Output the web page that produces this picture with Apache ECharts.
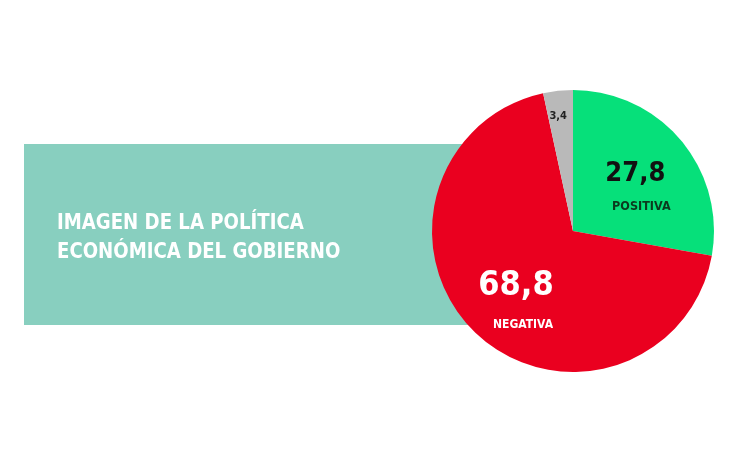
<!DOCTYPE html>
<html><head><meta charset="utf-8">
<script src="https://cdn.jsdelivr.net/npm/echarts@6/dist/echarts.min.js"></script>
<style>html,body{margin:0;padding:0;background:#fff}#c{width:734px;height:453px}</style>
</head><body><div id="c"></div>
<script>
const categories = ['POSITIVA', 'NEGATIVA', 'NS/NC'];
const values = [27.8, 68.8, 3.4];
const titleLines = ['IMAGEN DE LA POLÍTICA', 'ECONÓMICA DEL GOBIERNO'];

const FONT = "'Liberation Sans Narrow', 'DejaVu Sans Condensed', 'Roboto', sans-serif";
const colors = ['#06e07a', '#ea001f', '#b9b9b9'];
const fmt = v => v.toFixed(1).replace('.', ',');

const chart = echarts.init(document.getElementById('c'), null, {renderer: 'canvas'});
const labelCfg = [
  {offset: [6, 8], rich: {
    v: {color: '#111', fontSize: 27, lineHeight: 30},
    n: {color: '#0b3a1e', fontSize: 12.5, lineHeight: 36, padding: [0, 0, 0, 12]}}},
  {offset: [-6, 22], rich: {
    v: {color: '#fff', fontSize: 34, lineHeight: 37},
    n: {color: '#fff', fontSize: 12, lineHeight: 40, padding: [0, 0, 0, 14]}}},
  {offset: [-7, -42], rich: {v: {color: '#222', fontSize: 11, lineHeight: 13}}}
];
chart.setOption({
  backgroundColor: '#fff',
  graphic: [
    {type: 'rect', z: 0, shape: {x: 24, y: 144, width: 480, height: 181}, style: {fill: '#88cfbf'}},
    {type: 'text', z: 1, x: 57, y: 209, scaleX: 0.96,
     style: {text: titleLines.join('\n'), fill: '#fff', font: 'bold 21px ' + FONT, lineHeight: 29, textVerticalAlign: 'top', verticalAlign: 'top'}}
  ],
  series: [{
    type: 'pie',
    center: [573, 231],
    radius: [0, 141],
    startAngle: 90,
    clockwise: true,
    z: 5,
    silent: true,
    animation: false,
    itemStyle: {borderWidth: 0},
    label: {show: true, position: 'inside', fontFamily: FONT, fontWeight: 'bold'},
    labelLine: {show: false},
    data: categories.map((c, i) => ({
      name: c, value: values[i],
      itemStyle: {color: colors[i]},
      label: {
        offset: labelCfg[i].offset,
        formatter: i === 2 ? '{v|' + fmt(values[i]) + '}' : '{v|' + fmt(values[i]) + '}\n{n|' + c + '}',
        rich: Object.fromEntries(Object.entries(labelCfg[i].rich).map(([k, s]) =>
          [k, Object.assign({fontFamily: FONT, fontWeight: 'bold', align: 'center'}, s)]))
      }
    }))
  }]
});
</script></body></html>
